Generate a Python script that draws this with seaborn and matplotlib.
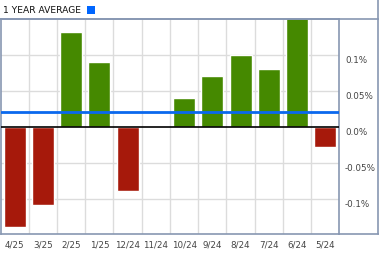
import matplotlib
matplotlib.use("Agg")
import matplotlib.pyplot as plt
from matplotlib.lines import Line2D
from matplotlib.patches import Rectangle
import seaborn as sns
import pandas as pd
import numpy as np

categories = ["4/25", "3/25", "2/25", "1/25", "12/24", "11/24", "10/24", "9/24", "8/24", "7/24", "6/24", "5/24"]
values = [-0.138, -0.1075, 0.132, 0.091, -0.088, 0.0, 0.041, 0.071, 0.100, 0.081, 0.152, -0.027]
average = 0.021
ytick_vals = [0.1, 0.05, 0.0, -0.05, -0.1]
ytick_labels = ["0.1%", "0.05%", "0.0%", "-0.05%", "-0.1%"]
title = "1 YEAR AVERAGE"

GREEN = "#458900"
RED = "#a6190b"
BLUE = "#0a68ee"
BORDER = "#8797b2"
GRID = "#dcdcdc"
TXT = "#444444"

sns.set_theme(style="white")
plt.rcParams["font.family"] = ["DejaVu Sans"]

W, H = 379, 255
fig = plt.figure(figsize=(W / 100, H / 100), dpi=100)
ax_left, ax_right, ax_top, ax_bottom = 0.5, 339.5, 20.3, 234.5
ax = fig.add_axes([ax_left / W, 1 - ax_bottom / H, (ax_right - ax_left) / W, (ax_bottom - ax_top) / H])

df = pd.DataFrame({"cat": categories, "val": values})
df["sign"] = np.where(df["val"] >= 0, "pos", "neg")
sns.barplot(data=df, x="cat", y="val", hue="sign", palette={"pos": GREEN, "neg": RED},
            order=categories, dodge=False, width=0.78, legend=False, ax=ax, saturation=1)

ax.set_xlim(-0.5, len(categories) - 0.5)
ax.set_ylim(-0.1472, 0.15)
ax.set_xlabel("")
ax.set_ylabel("")

# grid
ax.set_xticks(np.arange(len(categories)))
ax.set_xticklabels(categories)
ax.set_xticks(np.arange(0.5, len(categories) - 0.5, 1.0), minor=True)
ax.grid(False)
ax.grid(True, which="minor", axis="x", color=GRID, lw=1.0)
for v in [0.1, 0.05, -0.05, -0.1]:
    ax.axhline(v, color=GRID, lw=1.0, zorder=0.5)
ax.set_axisbelow(True)

ax.axhline(0, color="black", lw=1.2, zorder=3)
ax.axhline(average, color=BLUE, lw=2.0, zorder=4)

ax.yaxis.tick_right()
ax.set_yticks(ytick_vals)
ax.set_yticklabels(ytick_labels)
ax.tick_params(axis="y", which="both", length=0, pad=4, labelsize=6.3, labelcolor=TXT)
ax.tick_params(axis="x", which="both", length=0, pad=4, labelsize=6.3, labelcolor=TXT)
for lab in ax.get_yticklabels():
    lab.set_verticalalignment("top")
    lab.set_horizontalalignment("left")

for s in ax.spines.values():
    s.set_color(BORDER)
    s.set_linewidth(1.2)

# outer frame pieces (figure coords)
def fx(x):
    return x / W

def fy(y):
    return 1 - y / H

fig.add_artist(Line2D([fx(0), fx(378.5)], [fy(20.3), fy(20.3)], color=BORDER, lw=1.2))
fig.add_artist(Line2D([fx(378.4), fx(378.4)], [fy(0), fy(234.5)], color=BORDER, lw=1.2))
fig.add_artist(Line2D([fx(339), fx(378.5)], [fy(234.5), fy(234.5)], color=BORDER, lw=1.2))

fig.text(fx(3), fy(10.5), title, fontsize=6.6, color="#111111", va="center", ha="left")
fig.add_artist(Rectangle((fx(87), fy(14.7)), fx(8), 7.7 / H, color="#0066ff", lw=0))

fig.savefig("out.png", dpi=100)
